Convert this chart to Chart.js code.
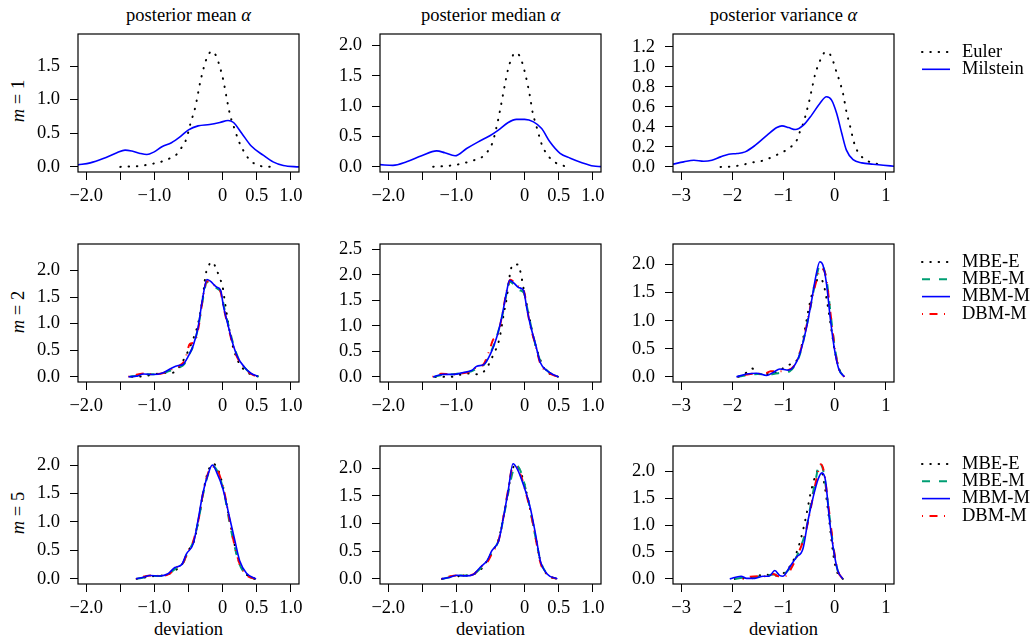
<!DOCTYPE html>
<html>
<head>
<meta charset="utf-8">
<script src="https://cdn.jsdelivr.net/npm/chart.js@4.4.1/dist/chart.umd.min.js"></script>
<style>
  body { margin: 0; background: #fff; width: 1035px; height: 641px; position: relative; overflow: hidden; font-family: 'Liberation Serif', 'Times New Roman', serif; color: #000; }
  canvas { position: absolute; }
  .lbl { position: absolute; font-size: 18.5px; white-space: nowrap; line-height: 1; transform: translate(-50%, -50%); }
  .rot { transform: translate(-50%, -50%) rotate(-90deg); }
</style>
</head>
<body>

<div class="lbl" style="left:188.5px;top:15px">posterior mean <i>α</i></div>
<div class="lbl" style="left:490.5px;top:15px">posterior median <i>α</i></div>
<div class="lbl" style="left:783.5px;top:15px">posterior variance <i>α</i></div>

<div class="lbl rot" style="left:18px;top:101px"><i>m</i> = 1</div>
<div class="lbl rot" style="left:18px;top:312px"><i>m</i> = 2</div>
<div class="lbl rot" style="left:18px;top:513px"><i>m</i> = 5</div>

<div class="lbl" style="left:188.5px;top:629px">deviation</div>
<div class="lbl" style="left:490.5px;top:629px">deviation</div>
<div class="lbl" style="left:783.5px;top:629px">deviation</div>

<script>
// ---- tick values / labels ----
var xTicksAB = [-2.0, -1.5, -1.0, -0.5, 0, 0.5, 1.0]
var xLabelsAB = ['\u22122.0', '', '\u22121.0', '', '0', '0.5', '1.0']
var xTicksC = [-3, -2, -1, 0, 1]
var xLabelsC = ['\u22123', '\u22122', '\u22121', '0', '1']

// ---- m = 1 : Euler vs Milstein ----
var meanEuler1 = [[-1.5,0],[-1.38,0.005],[-1.26,0.01],[-1.14,0.025],[-1.01,0.05],[-0.89,0.08],[-0.78,0.124],[-0.67,0.19],[-0.6,0.29],[-0.53,0.42],[-0.47,0.65],[-0.4,0.89],[-0.33,1.25],[-0.27,1.5],[-0.23,1.62],[-0.16,1.72],[-0.09,1.64],[-0.05,1.52],[0.01,1.29],[0.06,1.02],[0.11,0.77],[0.18,0.55],[0.23,0.4],[0.3,0.25],[0.4,0.1],[0.52,0.025],[0.64,0.002],[0.77,0]]
var meanMilstein1 = [[-2.12,0.03],[-1.94,0.06],[-1.75,0.124],[-1.55,0.21],[-1.43,0.25],[-1.33,0.235],[-1.21,0.2],[-1.11,0.184],[-1.01,0.22],[-0.89,0.3],[-0.75,0.36],[-0.62,0.45],[-0.5,0.55],[-0.36,0.61],[-0.19,0.63],[-0.04,0.66],[0.08,0.69],[0.16,0.66],[0.28,0.5],[0.42,0.31],[0.6,0.17],[0.74,0.075],[0.89,0.02],[1.12,0]]
var medianEuler1 = [[-1.34,0],[-1.22,0.005],[-1.1,0.016],[-0.97,0.038],[-0.85,0.07],[-0.73,0.11],[-0.61,0.17],[-0.53,0.27],[-0.47,0.4],[-0.41,0.66],[-0.36,0.93],[-0.29,1.35],[-0.24,1.62],[-0.2,1.76],[-0.14,1.88],[-0.08,1.84],[-0.03,1.7],[0.03,1.43],[0.08,1.15],[0.12,0.88],[0.16,0.72],[0.22,0.48],[0.26,0.34],[0.32,0.22],[0.4,0.11],[0.5,0.04],[0.62,0]]
var medianMilstein1 = [[-2.12,0.033],[-1.93,0.022],[-1.73,0.08],[-1.51,0.18],[-1.29,0.26],[-1.17,0.23],[-1.02,0.18],[-0.85,0.3],[-0.68,0.41],[-0.51,0.51],[-0.39,0.6],[-0.24,0.73],[-0.12,0.78],[0,0.78],[0.13,0.74],[0.25,0.63],[0.37,0.41],[0.52,0.22],[0.67,0.14],[0.84,0.066],[1.01,0.01],[1.12,0]]
var varEuler1 = [[-2.23,0],[-2.07,0.002],[-1.91,0.01],[-1.75,0.027],[-1.58,0.047],[-1.42,0.06],[-1.26,0.09],[-1.12,0.123],[-0.97,0.16],[-0.84,0.207],[-0.74,0.267],[-0.68,0.35],[-0.61,0.44],[-0.55,0.55],[-0.49,0.673],[-0.45,0.767],[-0.38,0.927],[-0.32,1.017],[-0.25,1.1],[-0.18,1.15],[-0.07,1.107],[0.04,0.94],[0.1,0.85],[0.17,0.717],[0.23,0.55],[0.29,0.43],[0.4,0.207],[0.49,0.127],[0.59,0.073],[0.75,0.04],[0.92,0.02]]
var varMilstein1 = [[-3.16,0.027],[-2.95,0.05],[-2.75,0.067],[-2.56,0.057],[-2.4,0.067],[-2.23,0.1],[-2.07,0.127],[-1.91,0.133],[-1.75,0.15],[-1.55,0.217],[-1.32,0.317],[-1.13,0.393],[-1.03,0.41],[-0.9,0.393],[-0.77,0.373],[-0.61,0.417],[-0.45,0.517],[-0.29,0.633],[-0.16,0.7],[-0.06,0.667],[0.04,0.533],[0.14,0.333],[0.23,0.167],[0.36,0.073],[0.53,0.04],[0.75,0.027],[0.95,0.017],[1.16,0.007]]

// ---- m = 2 ----
var mean2MBEE = [[-1.33,0],[-1.15,0.01],[-1.02,0.04],[-0.87,0.07],[-0.78,0.07],[-0.68,0.11],[-0.55,0.37],[-0.46,0.62],[-0.36,1.0],[-0.29,1.5],[-0.25,1.91],[-0.21,2.08],[-0.15,2.16],[-0.09,2.02],[-0.04,1.85],[0,1.7],[0.03,1.44],[0.08,1.03],[0.13,0.68],[0.2,0.37],[0.3,0.15],[0.42,0.04],[0.54,0]]
var mean2MBEM = [[-1.36,0],[-1.24,0.02],[-1.14,0.045],[-1.0,0.045],[-0.86,0.07],[-0.74,0.13],[-0.64,0.17],[-0.56,0.24],[-0.5,0.4],[-0.43,0.58],[-0.36,0.92],[-0.29,1.45],[-0.23,1.78],[-0.16,1.72],[-0.08,1.66],[-0.02,1.58],[0.02,1.32],[0.09,0.95],[0.16,0.6],[0.23,0.35],[0.33,0.16],[0.43,0.05],[0.53,0]]
var mean2MBMM = [[-1.38,0],[-1.26,0.01],[-1.16,0.05],[-1.02,0.04],[-0.87,0.076],[-0.75,0.16],[-0.65,0.21],[-0.58,0.23],[-0.51,0.37],[-0.43,0.59],[-0.36,0.93],[-0.29,1.5],[-0.23,1.83],[-0.18,1.8],[-0.09,1.69],[-0.03,1.63],[0.015,1.31],[0.08,0.97],[0.15,0.62],[0.22,0.37],[0.32,0.18],[0.42,0.06],[0.52,0.005]]
var mean2DBMM = [[-1.38,0],[-1.25,0.04],[-1.15,0.06],[-1.02,0.045],[-0.87,0.07],[-0.75,0.14],[-0.64,0.2],[-0.55,0.32],[-0.48,0.62],[-0.42,0.64],[-0.35,0.95],[-0.29,1.48],[-0.23,1.8],[-0.17,1.78],[-0.09,1.68],[-0.03,1.6],[0.015,1.3],[0.08,0.95],[0.15,0.6],[0.22,0.35],[0.32,0.17],[0.42,0.05],[0.52,0]]

var median2MBEE = [[-1.31,0],[-1.07,0.002],[-0.95,0.04],[-0.82,0.066],[-0.7,0.05],[-0.58,0.13],[-0.46,0.43],[-0.37,0.74],[-0.31,1.2],[-0.26,1.56],[-0.21,2.05],[-0.17,2.2],[-0.1,2.2],[-0.06,2.05],[-0.015,1.73],[0.03,1.43],[0.08,1.1],[0.13,0.77],[0.21,0.41],[0.28,0.18],[0.38,0.05],[0.5,0]]
var median2MBEM = [[-1.33,0],[-1.2,0.04],[-1.05,0.05],[-0.9,0.08],[-0.78,0.11],[-0.68,0.18],[-0.6,0.23],[-0.5,0.47],[-0.42,0.74],[-0.33,1.18],[-0.26,1.66],[-0.22,1.86],[-0.15,1.8],[-0.08,1.7],[-0.01,1.64],[0.04,1.34],[0.09,1.02],[0.16,0.62],[0.24,0.28],[0.34,0.11],[0.44,0.03],[0.51,0]]
var median2MBMM = [[-1.34,0],[-1.19,0.05],[-1.04,0.05],[-0.9,0.085],[-0.77,0.13],[-0.7,0.21],[-0.6,0.24],[-0.5,0.45],[-0.41,0.77],[-0.33,1.2],[-0.26,1.69],[-0.22,1.89],[-0.16,1.84],[-0.09,1.75],[-0.015,1.69],[0.03,1.36],[0.08,1.04],[0.16,0.64],[0.23,0.28],[0.33,0.12],[0.43,0.04],[0.5,0]]
var median2DBMM = [[-1.35,0],[-1.22,0.06],[-1.08,0.05],[-0.92,0.07],[-0.8,0.1],[-0.7,0.19],[-0.6,0.25],[-0.52,0.5],[-0.46,0.73],[-0.4,0.8],[-0.33,1.2],[-0.26,1.7],[-0.21,1.9],[-0.15,1.85],[-0.08,1.76],[-0.01,1.68],[0.03,1.38],[0.08,1.02],[0.16,0.62],[0.23,0.26],[0.33,0.1],[0.43,0.03],[0.5,0]]

var var2MBEE = [[-1.88,0],[-1.75,0.06],[-1.62,0.15],[-1.46,0.05],[-1.27,0.05],[-1.07,0.11],[-0.95,0.2],[-0.84,0.23],[-0.75,0.28],[-0.66,0.5],[-0.58,0.85],[-0.5,1.25],[-0.42,1.55],[-0.36,1.7],[-0.3,1.76],[-0.22,1.66],[-0.13,1.24],[-0.06,0.82],[0,0.47],[0.1,0.12],[0.19,0]]
var var2MBEM = [[-1.9,0],[-1.7,0.03],[-1.5,0.05],[-1.3,0.04],[-1.15,0.06],[-1.0,0.08],[-0.88,0.1],[-0.78,0.2],[-0.68,0.4],[-0.56,0.85],[-0.46,1.3],[-0.37,1.72],[-0.28,2.0],[-0.22,1.95],[-0.15,1.68],[-0.07,1.05],[0.01,0.48],[0.09,0.13],[0.19,0]]
var var2MBMM = [[-1.92,0],[-1.72,0.05],[-1.53,0.066],[-1.33,0.024],[-1.2,0.08],[-1.07,0.14],[-0.91,0.12],[-0.81,0.17],[-0.68,0.41],[-0.55,0.88],[-0.45,1.36],[-0.37,1.78],[-0.29,2.05],[-0.23,1.99],[-0.16,1.66],[-0.08,1.0],[0,0.47],[0.08,0.14],[0.19,0]]
var var2DBMM = [[-1.9,0],[-1.72,0.04],[-1.55,0.06],[-1.38,0.05],[-1.25,0.1],[-1.1,0.1],[-0.92,0.12],[-0.8,0.19],[-0.68,0.43],[-0.56,0.86],[-0.46,1.32],[-0.36,1.7],[-0.27,1.92],[-0.21,1.9],[-0.15,1.66],[-0.07,1.04],[0.01,0.46],[0.09,0.12],[0.19,0]]

// ---- m = 5 ----
var mean5MBEE = [[-1.26,0],[-1.12,0.03],[-1.0,0.05],[-0.88,0.06],[-0.76,0.1],[-0.66,0.18],[-0.57,0.3],[-0.5,0.5],[-0.42,0.66],[-0.35,1.05],[-0.28,1.55],[-0.21,1.9],[-0.14,2.02],[-0.07,1.93],[0.01,1.6],[0.1,1.05],[0.17,0.63],[0.24,0.3],[0.34,0.09],[0.47,0]]
var mean5MBEM = [[-1.25,0],[-1.14,0.03],[-1.05,0.05],[-0.9,0.05],[-0.78,0.1],[-0.68,0.19],[-0.58,0.27],[-0.52,0.46],[-0.43,0.65],[-0.35,1.05],[-0.28,1.52],[-0.2,1.88],[-0.14,1.98],[-0.08,1.9],[0.02,1.52],[0.1,1.0],[0.17,0.6],[0.24,0.28],[0.34,0.08],[0.47,0]]
var mean5MBMM = [[-1.27,0],[-1.16,0.03],[-1.07,0.06],[-0.92,0.05],[-0.8,0.09],[-0.7,0.2],[-0.6,0.25],[-0.53,0.44],[-0.43,0.62],[-0.36,1.03],[-0.29,1.5],[-0.21,1.85],[-0.15,2.0],[-0.09,1.88],[0.005,1.58],[0.1,1.09],[0.18,0.67],[0.25,0.32],[0.35,0.1],[0.49,0]]
var mean5DBMM = [[-1.27,0],[-1.15,0.04],[-1.05,0.06],[-0.9,0.05],[-0.78,0.09],[-0.68,0.2],[-0.58,0.28],[-0.52,0.45],[-0.43,0.66],[-0.35,1.06],[-0.28,1.55],[-0.2,1.9],[-0.15,1.97],[-0.08,1.92],[0.02,1.55],[0.1,1.05],[0.17,0.62],[0.24,0.3],[0.34,0.08],[0.47,0]]

var median5MBEE = [[-1.21,0],[-1.08,0.04],[-0.96,0.05],[-0.85,0.06],[-0.72,0.1],[-0.62,0.2],[-0.54,0.35],[-0.46,0.52],[-0.38,0.72],[-0.31,1.12],[-0.24,1.6],[-0.18,1.98],[-0.12,2.05],[-0.05,1.9],[0.03,1.55],[0.1,1.15],[0.17,0.7],[0.24,0.28],[0.34,0.07],[0.47,0]]
var median5MBEM = [[-1.2,0],[-1.07,0.04],[-0.97,0.06],[-0.85,0.06],[-0.74,0.09],[-0.64,0.2],[-0.55,0.32],[-0.47,0.5],[-0.38,0.7],[-0.31,1.1],[-0.24,1.55],[-0.17,1.95],[-0.12,2.05],[-0.06,1.95],[0.02,1.6],[0.09,1.2],[0.16,0.75],[0.24,0.3],[0.34,0.08],[0.47,0]]
var median5MBMM = [[-1.22,0],[-1.09,0.03],[-0.99,0.066],[-0.87,0.054],[-0.75,0.08],[-0.65,0.21],[-0.55,0.33],[-0.48,0.51],[-0.38,0.69],[-0.31,1.11],[-0.24,1.6],[-0.17,2.08],[-0.11,1.99],[-0.015,1.69],[0.08,1.3],[0.16,0.81],[0.23,0.33],[0.33,0.09],[0.48,0]]
var median5DBMM = [[-1.22,0],[-1.08,0.05],[-0.98,0.06],[-0.86,0.06],[-0.74,0.09],[-0.64,0.22],[-0.55,0.3],[-0.47,0.48],[-0.38,0.7],[-0.31,1.12],[-0.24,1.62],[-0.18,2.0],[-0.12,2.02],[-0.05,1.85],[0.02,1.55],[0.09,1.2],[0.16,0.75],[0.23,0.3],[0.33,0.08],[0.47,0]]

var var5MBEE = [[-1.95,0],[-1.8,0.01],[-1.65,0.03],[-1.5,0.06],[-1.35,0.08],[-1.2,0.06],[-1.05,0.08],[-0.9,0.2],[-0.78,0.4],[-0.66,0.75],[-0.55,1.2],[-0.48,1.55],[-0.4,1.85],[-0.32,2.02],[-0.25,1.98],[-0.19,1.7],[-0.12,1.2],[-0.06,0.7],[0,0.3],[0.07,0.08],[0.16,0]]
var var5MBEM = [[-1.95,0],[-1.8,0.02],[-1.65,0.01],[-1.5,0.04],[-1.35,0.06],[-1.2,0.08],[-1.05,0.07],[-0.92,0.15],[-0.78,0.35],[-0.66,0.6],[-0.55,0.95],[-0.46,1.42],[-0.37,1.85],[-0.29,2.15],[-0.22,2.0],[-0.15,1.55],[-0.08,1.0],[-0.02,0.55],[0.06,0.15],[0.16,0]]
var var5MBMM = [[-2.05,0],[-1.83,0.05],[-1.72,0.01],[-1.56,0.01],[-1.4,0.05],[-1.28,0.05],[-1.17,0.155],[-1.07,0.06],[-1.01,0.05],[-0.88,0.22],[-0.75,0.4],[-0.62,0.56],[-0.52,1.09],[-0.42,1.52],[-0.32,1.86],[-0.25,1.97],[-0.18,1.83],[-0.1,1.09],[-0.03,0.59],[0.06,0.155],[0.16,0]]
var var5DBMM = [[-1.8,0],[-1.65,0.04],[-1.5,0.05],[-1.35,0.05],[-1.2,0.09],[-1.1,0.05],[-0.95,0.06],[-0.82,0.25],[-0.7,0.5],[-0.6,0.75],[-0.5,1.15],[-0.42,1.55],[-0.34,1.92],[-0.27,2.13],[-0.2,1.95],[-0.14,1.5],[-0.07,0.95],[-0.01,0.5],[0.07,0.13],[0.16,0]]

// ---- line styles ----
var styles = {
    euler:  { label: 'Euler',    color: '#000000', dash: [0.5, 7.8], width: 2,   cap: 'round' },
    mil:    { label: 'Milstein', color: '#0000FF', dash: [],         width: 1.6, cap: 'butt' },
    mbee:   { label: 'MBE-E',    color: '#000000', dash: [0.5, 7.8], width: 2,   cap: 'round' },
    mbem:   { label: 'MBE-M',    color: '#009E73', dash: [8, 9],     width: 2,   cap: 'butt' },
    mbmm:   { label: 'MBM-M',    color: '#0000FF', dash: [],         width: 1.6, cap: 'butt' },
    dbmm:   { label: 'DBM-M',    color: '#FF0000', dash: [1, 6.5, 8, 6.5], width: 2, cap: 'butt' }
}

var colLeft = [78, 380, 673]
var rowTop = [34, 244, 446]
var boxW = 221
var boxH = 138
var padL = 75, padT = 5, padB = 45

Chart.defaults.font.family = "'Liberation Serif', 'Times New Roman', serif"
Chart.defaults.font.size = 18.5
Chart.defaults.color = '#000'

function framePlugin(legendKeys) {
    return {
        id: 'frame',
        afterDraw: function (chart) {
            var a = chart.chartArea
            var ctx = chart.ctx
            ctx.save()
            ctx.strokeStyle = '#000'
            ctx.lineWidth = 1.2
            ctx.strokeRect(a.left, a.top, a.right - a.left, a.bottom - a.top)
            if (legendKeys) {
                ctx.font = "18.5px 'Liberation Serif', serif"
                ctx.textBaseline = 'middle'
                ctx.fillStyle = '#000'
                for (var i = 0; i < legendKeys.length; i++) {
                    var s = styles[legendKeys[i]]
                    var y = a.top + 18 + i * 17.3
                    ctx.beginPath()
                    ctx.strokeStyle = s.color
                    ctx.lineWidth = s.width
                    ctx.lineCap = s.cap
                    ctx.setLineDash(s.dash)
                    ctx.moveTo(a.right + 28, y)
                    ctx.lineTo(a.right + 56, y)
                    ctx.stroke()
                    ctx.setLineDash([])
                    ctx.fillText(s.label, a.right + 68, y)
                }
            }
            ctx.restore()
        }
    }
}

function makePanel(row, col, series, yMin, yMax, yTicks) {
    var rightPad = col === 2 ? 1035 - (colLeft[2] + boxW) : 12
    var canvas = document.createElement('canvas')
    canvas.width = padL + boxW + rightPad
    canvas.height = padT + boxH + padB
    canvas.style.left = (colLeft[col] - padL) + 'px'
    canvas.style.top = (rowTop[row] - padT) + 'px'
    document.body.appendChild(canvas)

    var xTicks = col === 2 ? xTicksC : xTicksAB
    var xLabels = col === 2 ? xLabelsC : xLabelsAB
    var xRange = col === 2 ? [-3.16, 1.16] : [-2.12, 1.12]

    var datasets = series.map(function (sr, k) {
        var s = styles[sr[0]]
        return {
            label: s.label,
            data: sr[1],
            borderColor: s.color,
            borderWidth: s.width,
            borderDash: s.dash,
            borderCapStyle: s.cap,
            pointRadius: 0,
            fill: false,
            cubicInterpolationMode: 'monotone',
            order: sr[0] === 'mbmm' || sr[0] === 'mil' ? 0 : series.length - k
        }
    })

    var legendKeys = col === 2 ? series.map(function (sr) { return sr[0] }) : null

    new Chart(canvas, {
        type: 'line',
        data: { datasets: datasets },
        options: {
            responsive: false,
            animation: false,
            devicePixelRatio: 1,
            events: [],
            layout: { padding: { left: 0, top: padT, right: rightPad, bottom: 0 } },
            plugins: { legend: { display: false }, tooltip: { enabled: false } },
            scales: {
                x: {
                    type: 'linear',
                    min: xRange[0],
                    max: xRange[1],
                    afterBuildTicks: function (s) { s.ticks = xTicks.map(function (v) { return { value: v } }) },
                    afterFit: function (s) { s.height = padB; s.paddingLeft = 0; s.paddingRight = 0 },
                    ticks: { autoSkip: false, maxRotation: 0, minRotation: 0, padding: 5, callback: function (v, i) { return xLabels[i] } },
                    grid: { drawOnChartArea: false, drawTicks: true, tickLength: 8, color: '#000', lineWidth: 1 },
                    border: { display: false }
                },
                y: {
                    type: 'linear',
                    min: yMin,
                    max: yMax,
                    afterBuildTicks: function (s) { s.ticks = yTicks.map(function (v) { return { value: v } }) },
                    afterFit: function (s) { s.width = padL; s.paddingTop = 0; s.paddingBottom = 0 },
                    ticks: { autoSkip: false, padding: 10, callback: function (v) { return v.toFixed(1) } },
                    grid: { drawOnChartArea: false, drawTicks: true, tickLength: 8, color: '#000', lineWidth: 1 },
                    border: { display: false }
                }
            }
        },
        plugins: [framePlugin(legendKeys)]
    })
}

var yTicks15 = [0, 0.5, 1.0, 1.5]
var yTicks20 = [0, 0.5, 1.0, 1.5, 2.0]
var yTicks25 = [0, 0.5, 1.0, 1.5, 2.0, 2.5]
var yTicks12 = [0, 0.2, 0.4, 0.6, 0.8, 1.0, 1.2]

makePanel(0, 0, [['euler', meanEuler1], ['mil', meanMilstein1]], -0.076, 1.976, yTicks15)
makePanel(0, 1, [['euler', medianEuler1], ['mil', medianMilstein1]], -0.088, 2.19, yTicks20)
makePanel(0, 2, [['euler', varEuler1], ['mil', varMilstein1]], -0.051, 1.327, yTicks12)

makePanel(1, 0, [['mbee', mean2MBEE], ['mbem', mean2MBEM], ['mbmm', mean2MBMM], ['dbmm', mean2DBMM]], -0.1, 2.5, yTicks20)
makePanel(1, 1, [['mbee', median2MBEE], ['mbem', median2MBEM], ['mbmm', median2MBMM], ['dbmm', median2DBMM]], -0.1, 2.6, yTicks25)
makePanel(1, 2, [['mbee', var2MBEE], ['mbem', var2MBEM], ['mbmm', var2MBMM], ['dbmm', var2DBMM]], -0.091, 2.365, yTicks20)

makePanel(2, 0, [['mbee', mean5MBEE], ['mbem', mean5MBEM], ['mbmm', mean5MBMM], ['dbmm', mean5DBMM]], -0.09, 2.334, yTicks20)
makePanel(2, 1, [['mbee', median5MBEE], ['mbem', median5MBEM], ['mbmm', median5MBMM], ['dbmm', median5DBMM]], -0.092, 2.4, yTicks20)
makePanel(2, 2, [['mbee', var5MBEE], ['mbem', var5MBEM], ['mbmm', var5MBMM], ['dbmm', var5DBMM]], -0.095, 2.47, yTicks20)
</script>
</body>
</html>
